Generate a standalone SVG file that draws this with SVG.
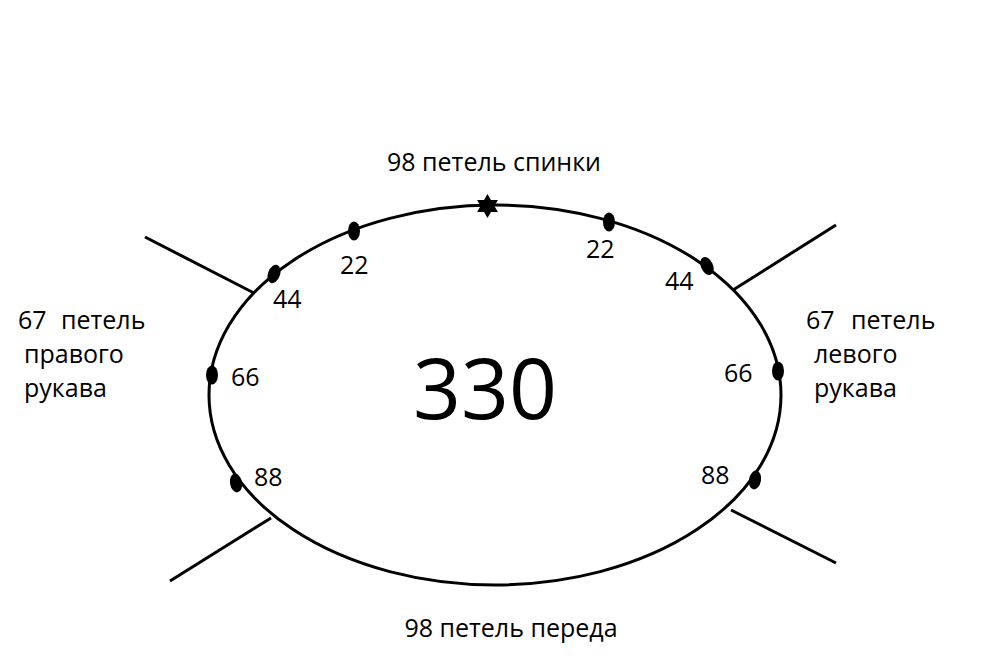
<svg xmlns="http://www.w3.org/2000/svg" width="989" height="672" viewBox="0 0 989 672">
<style>
.t{font-family:"Open Sans","Noto Sans","DejaVu Sans",sans-serif;font-size:25px;fill:#000}
.big{font-family:"Open Sans","Noto Sans","DejaVu Sans",sans-serif;font-size:84px;fill:#000}
.ln{stroke:#000;stroke-width:3;fill:none}
.dot{fill:#000}
</style>
<rect width="989" height="672" fill="#fff"/>
<g id="connectors">
<line class="ln" x1="145" y1="237" x2="254" y2="293"/>
<line class="ln" x1="836" y1="225" x2="733" y2="290"/>
<line class="ln" x1="170" y1="581" x2="271" y2="518"/>
<line class="ln" x1="836" y1="563" x2="731" y2="510"/>
</g>
<g id="yoke">
<ellipse class="ln" cx="495" cy="395" rx="286" ry="190"/>
<text class="big" x="485" y="419" text-anchor="middle">330</text>
</g>
<g id="star">
<polygon class="dot" points="487.5,194 490.96,200 497.89,200 494.43,206 497.89,212 490.96,212 487.5,218 484.04,212 477.11,212 480.57,206 477.11,200 484.04,200"/>
</g>
<g id="marks">
<ellipse class="dot" cx="354" cy="231" rx="6" ry="9.5"/>
<ellipse class="dot" cx="609" cy="222" rx="6" ry="9.5"/>
<ellipse class="dot" cx="274" cy="274" rx="6" ry="9.5" transform="rotate(20 274 274)"/>
<ellipse class="dot" cx="707" cy="266" rx="6" ry="9.5" transform="rotate(-25 707 266)"/>
<ellipse class="dot" cx="212" cy="375" rx="6" ry="9.5"/>
<ellipse class="dot" cx="778" cy="371" rx="6" ry="9.5"/>
<ellipse class="dot" cx="236" cy="483" rx="6" ry="9.5" transform="rotate(-10 236 483)"/>
<ellipse class="dot" cx="755" cy="480" rx="6" ry="9.5" transform="rotate(10 755 480)"/>
</g>
<g id="labels">
<text class="t" x="494" y="171" text-anchor="middle">98 петель спинки</text>
<text class="t" x="340" y="274">22</text>
<text class="t" x="586" y="258">22</text>
<text class="t" x="273" y="308">44</text>
<text class="t" x="665" y="290">44</text>
<text class="t" x="231" y="386">66</text>
<text class="t" x="724" y="382">66</text>
<text class="t" x="254" y="486">88</text>
<text class="t" x="701" y="484">88</text>
<text class="t" x="511" y="637" text-anchor="middle">98 петель переда</text>
</g>
<g id="right-sleeve">
<text class="t" x="18" y="329">67</text>
<text class="t" x="61" y="329">петель</text>
<text class="t" x="24" y="363">правого</text>
<text class="t" x="24" y="397">рукава</text>
</g>
<g id="left-sleeve">
<text class="t" x="806" y="329">67</text>
<text class="t" x="851" y="329">петель</text>
<text class="t" x="814" y="363">левого</text>
<text class="t" x="814" y="397">рукава</text>
</g>
</svg>
